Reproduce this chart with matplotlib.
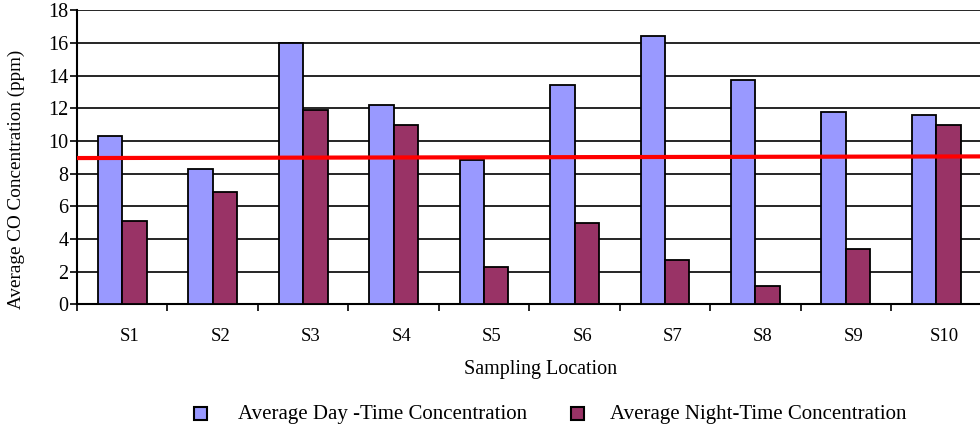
import numpy as np
import matplotlib.pyplot as plt
from matplotlib.patches import Rectangle

plt.rcParams['font.family'] = ['Liberation Serif', 'DejaVu Serif']

# concentrazioni medie di CO per sito di campionamento (ppm)
siti = ['S1', 'S2', 'S3', 'S4', 'S5', 'S6', 'S7', 'S8', 'S9', 'S10']
giorno = [10.3, 8.3, 16.0, 12.2, 8.8, 13.4, 16.4, 13.7, 11.8, 11.6]
notte = [5.1, 6.9, 11.9, 11.0, 2.3, 5.0, 2.7, 1.1, 3.4, 11.0]
limite = [8.95, 9.05]   # linea del limite a sinistra e a destra
etichette = ['Average Day -Time Concentration', 'Average Night-Time Concentration']

col_giorno = '#9999FF'
col_notte = '#993366'

fig = plt.figure(figsize=[9.8, 4.29], dpi=100)
ax = fig.add_axes([0.0786, 0.291, 0.923, 0.685])

x = np.arange(len(siti))
w = 0.27
ax.bar(x - w/2, giorno, w, color=col_giorno, edgecolor='black', linewidth=1.3, zorder=3)
ax.bar(x + w/2, notte, w, color=col_notte, edgecolor='black', linewidth=1.3, zorder=3)

ax.plot([-0.5, len(siti) - 0.5], limite, color='red', linewidth=3, zorder=4)

ax.set_xlim(-0.5, len(siti) - 0.5)
ax.set_ylim(0, 18)
ax.set_yticks(np.arange(0, 19, 2))
ax.yaxis.grid(True, color='black', linewidth=1.2)
ax.set_axisbelow(True)

# tacche ai confini tra le categorie, etichette al centro
ax.set_xticks(np.arange(-0.5, len(siti) - 0.4, 1))
ax.set_xticklabels([])
ax.set_xticks(x + 0.085, minor=True)
ax.set_xticklabels(siti, minor=True)
ax.tick_params(axis='x', which='major', length=5, width=1.2, direction='out')
ax.tick_params(axis='x', which='minor', length=0, pad=17, labelsize=13.5)
ax.tick_params(axis='y', length=5, width=1.2, labelsize=14.5, pad=1)

for s in ['left', 'bottom']:
    ax.spines[s].set_linewidth(1.5)
ax.spines['right'].set_visible(False)
ax.spines['top'].set_visible(False)

ax.set_ylabel('Average CO Concentration (ppm)', fontsize=13.8)
ax.yaxis.set_label_coords(-0.057, 0.423)
ax.set_xlabel('Sampling Location', fontsize=14.5)
ax.xaxis.set_label_coords(0.513, -0.19)

# legenda in basso
W, H = 980, 429
for cx, col, tx, lab in zip([200, 577], [col_giorno, col_notte], [238, 610], etichette):
    fig.patches.append(Rectangle(((cx - 6.5) / W, (H - 413 - 6.5) / H), 13 / W, 13 / H,
                                 transform=fig.transFigure, facecolor=col,
                                 edgecolor='black', linewidth=1.5))
    fig.text(tx / W, (H - 414) / H, lab, fontsize=15, va='center', ha='left')

fig.savefig('out.png', dpi=100)
